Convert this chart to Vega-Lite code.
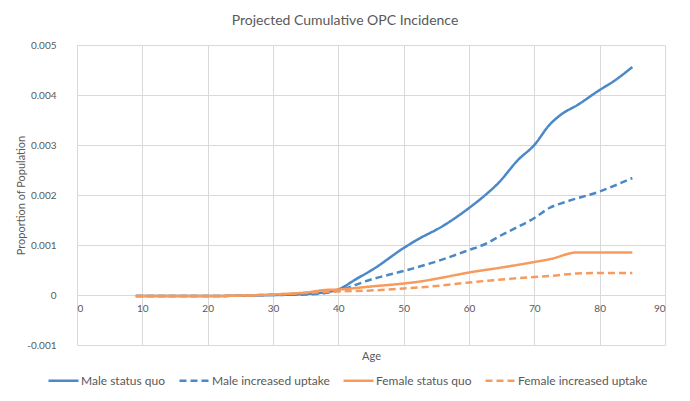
{
  "$schema": "https://vega.github.io/schema/vega-lite/v6.json",
  "autosize": {"type": "none"},
  "width": 588,
  "height": 300,
  "padding": {"left": 77, "top": 45, "right": 25, "bottom": 56},
  "background": "white",
  "title": {
    "text": "Projected Cumulative OPC Incidence",
    "fontSize": 14,
    "font": "Lato",
    "fontWeight": "normal",
    "color": "#595959",
    "offset": 12,
    "dx": -26
  },
  "config": {
    "font": "Lato",
    "view": {"stroke": null},
    "axis": {
      "gridColor": "#d9d9d9",
      "gridWidth": 1,
      "labelColor": "#595959",
      "labelFontSize": 10,
      "titleColor": "#595959",
      "titleFontSize": 11,
      "titleFontWeight": "normal",
      "ticks": false
    },
    "legend": {"labelColor": "#595959", "labelFontSize": 12}
  },
  "data": {
    "values": [
      {"series": "Male status quo", "age": 9, "value": -0.00002},
      {"series": "Male status quo", "age": 20, "value": -0.00002},
      {"series": "Male status quo", "age": 30, "value": 0},
      {"series": "Male status quo", "age": 35, "value": 0.00002},
      {"series": "Male status quo", "age": 37, "value": 0.00004},
      {"series": "Male status quo", "age": 40, "value": 0.00011},
      {"series": "Male status quo", "age": 42.5, "value": 0.0003},
      {"series": "Male status quo", "age": 45.5, "value": 0.00053},
      {"series": "Male status quo", "age": 50, "value": 0.00094},
      {"series": "Male status quo", "age": 52, "value": 0.0011},
      {"series": "Male status quo", "age": 56, "value": 0.00138},
      {"series": "Male status quo", "age": 60, "value": 0.00174},
      {"series": "Male status quo", "age": 62.5, "value": 0.002},
      {"series": "Male status quo", "age": 64.5, "value": 0.00224},
      {"series": "Male status quo", "age": 67.5, "value": 0.0027},
      {"series": "Male status quo", "age": 70, "value": 0.003},
      {"series": "Male status quo", "age": 72.3, "value": 0.0034},
      {"series": "Male status quo", "age": 74, "value": 0.0036},
      {"series": "Male status quo", "age": 76.6, "value": 0.0038},
      {"series": "Male status quo", "age": 80, "value": 0.0041},
      {"series": "Male status quo", "age": 82.2, "value": 0.00428},
      {"series": "Male status quo", "age": 85, "value": 0.00456},
      {"series": "Male increased uptake", "age": 9, "value": -0.00002},
      {"series": "Male increased uptake", "age": 20, "value": -0.00002},
      {"series": "Male increased uptake", "age": 30, "value": 0},
      {"series": "Male increased uptake", "age": 35, "value": 0.00001},
      {"series": "Male increased uptake", "age": 38, "value": 0.00004},
      {"series": "Male increased uptake", "age": 40, "value": 0.00009},
      {"series": "Male increased uptake", "age": 45, "value": 0.00031},
      {"series": "Male increased uptake", "age": 50, "value": 0.00048},
      {"series": "Male increased uptake", "age": 55, "value": 0.00067},
      {"series": "Male increased uptake", "age": 60, "value": 0.0009},
      {"series": "Male increased uptake", "age": 62.5, "value": 0.00102},
      {"series": "Male increased uptake", "age": 65, "value": 0.0012},
      {"series": "Male increased uptake", "age": 70, "value": 0.00154},
      {"series": "Male increased uptake", "age": 72.3, "value": 0.00174},
      {"series": "Male increased uptake", "age": 75, "value": 0.00187},
      {"series": "Male increased uptake", "age": 80, "value": 0.00207},
      {"series": "Male increased uptake", "age": 85, "value": 0.00234},
      {"series": "Female status quo", "age": 9, "value": -0.00002},
      {"series": "Female status quo", "age": 20, "value": -0.00002},
      {"series": "Female status quo", "age": 30, "value": 0.00001},
      {"series": "Female status quo", "age": 35, "value": 0.00005},
      {"series": "Female status quo", "age": 38, "value": 0.0001},
      {"series": "Female status quo", "age": 40, "value": 0.00011},
      {"series": "Female status quo", "age": 45, "value": 0.00017},
      {"series": "Female status quo", "age": 50, "value": 0.00023},
      {"series": "Female status quo", "age": 52.5, "value": 0.00027},
      {"series": "Female status quo", "age": 56, "value": 0.00035},
      {"series": "Female status quo", "age": 60, "value": 0.00045},
      {"series": "Female status quo", "age": 65, "value": 0.00055},
      {"series": "Female status quo", "age": 70, "value": 0.00066},
      {"series": "Female status quo", "age": 72.5, "value": 0.00072},
      {"series": "Female status quo", "age": 76.5, "value": 0.00085},
      {"series": "Female status quo", "age": 80, "value": 0.00085},
      {"series": "Female status quo", "age": 85, "value": 0.00085},
      {"series": "Female increased uptake", "age": 9, "value": -0.00002},
      {"series": "Female increased uptake", "age": 20, "value": -0.00002},
      {"series": "Female increased uptake", "age": 30, "value": 0.00001},
      {"series": "Female increased uptake", "age": 35, "value": 0.00004},
      {"series": "Female increased uptake", "age": 38, "value": 0.00006},
      {"series": "Female increased uptake", "age": 40, "value": 0.00007},
      {"series": "Female increased uptake", "age": 45, "value": 0.00009},
      {"series": "Female increased uptake", "age": 50, "value": 0.00013},
      {"series": "Female increased uptake", "age": 55, "value": 0.00018},
      {"series": "Female increased uptake", "age": 60, "value": 0.00025},
      {"series": "Female increased uptake", "age": 65, "value": 0.00031},
      {"series": "Female increased uptake", "age": 70, "value": 0.00036},
      {"series": "Female increased uptake", "age": 72.5, "value": 0.00038},
      {"series": "Female increased uptake", "age": 76.5, "value": 0.00043},
      {"series": "Female increased uptake", "age": 80, "value": 0.00044},
      {"series": "Female increased uptake", "age": 85, "value": 0.00044}
    ]
  },
  "mark": {"type": "line", "strokeWidth": 2.5, "interpolate": "monotone"},
  "encoding": {
    "x": {
      "field": "age",
      "type": "quantitative",
      "title": "Age",
      "scale": {"domain": [0, 90], "nice": false, "zero": false},
      "axis": {
        "values": [0, 10, 20, 30, 40, 50, 60, 70, 80, 90],
        "offset": -50,
        "domainColor": "#d9d9d9",
        "labelPadding": 8,
        "titlePadding": 37
      }
    },
    "y": {
      "field": "value",
      "type": "quantitative",
      "title": "Proportion of Population",
      "scale": {"domain": [-0.001, 0.005], "nice": false, "zero": false},
      "axis": {
        "values": [-0.001, 0, 0.001, 0.002, 0.003, 0.004, 0.005],
        "labelExpr": "datum.value == 0 ? '0' : replace(format(datum.value, '.3f'), '−', '-')",
        "domain": false,
        "labelPadding": 21,
        "titlePadding": 0
      }
    },
    "color": {
      "field": "series",
      "type": "nominal",
      "title": null,
      "scale": {
        "domain": ["Male status quo", "Male increased uptake", "Female status quo", "Female increased uptake"],
        "range": ["#4A88C7", "#4A88C7", "#F79A5E", "#F79A5E"]
      },
      "legend": {
        "orient": "none",
        "legendX": -30,
        "legendY": 319,
        "direction": "horizontal",
        "symbolType": "stroke",
        "symbolSize": 900,
        "symbolStrokeWidth": 2.5,
        "labelOffset": 1,
        "columnPadding": 8
      }
    },
    "strokeDash": {
      "field": "series",
      "type": "nominal",
      "title": null,
      "scale": {
        "domain": ["Male status quo", "Male increased uptake", "Female status quo", "Female increased uptake"],
        "range": [[1, 0], [7, 4], [1, 0], [7, 4]]
      }
    }
  }
}
